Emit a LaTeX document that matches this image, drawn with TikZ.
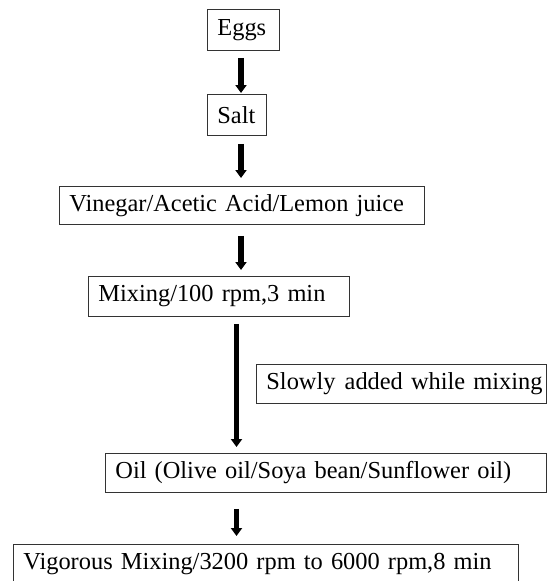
\documentclass[tikz,border=0pt]{standalone}
\usepackage{fontspec}
\setmainfont{Liberation Serif}
\usetikzlibrary{arrows.meta}
\begin{document}
\begin{tikzpicture}[x=1pt,y=-1pt,
  box/.style={draw=black!80, line width=0.8pt, anchor=north west, align=left,
    inner xsep=10pt, inner ysep=0pt, font=\fontsize{24.4}{28}\selectfont},
  arr/.style={line width=5.5pt, -{Triangle[width=11pt,length=8pt]}}]
\useasboundingbox (0,0) rectangle (547,581);
\node[box, text width=52pt, minimum height=41pt] (eggs) at (207,9) {\mbox{Eggs}};
\node[box, text width=39pt, minimum height=41pt] (salt) at (207,94) {\mbox{Salt}};
\node[box, text width=345pt, minimum height=38pt] (vin) at (59,186) {\mbox{Vinegar/Acetic Acid/Lemon juice}};
\node[box, text width=241pt, minimum height=40pt] (mix) at (88,276) {\mbox{Mixing/100 rpm,3 min}};
\node[box, text width=270pt, minimum height=39pt] (slow) at (256,364) {\mbox{Slowly\hspace{1pt} added while mixing}};
\node[box, text width=421pt, minimum height=39pt] (oil) at (105,453) {\mbox{Oil (Olive oil/Soya bean/Sunflower oil)}};
\node[box, text width=485pt, minimum height=40pt] (vig) at (13,544) {\mbox{Vigorous Mixing/3200 rpm to 6000 rpm,8 min}};
\coordinate (xa) at (241,0);
\coordinate (xb) at (236.5,0);
\draw[arr, shorten <=7pt, shorten >=1pt] (eggs.south -| xa) -- (salt.north -| xa);
\draw[arr, shorten <=8pt, shorten >=8pt] (salt.south -| xa) -- (vin.north -| xa);
\draw[arr, shorten <=11pt, shorten >=6pt] (vin.south -| xa) -- (mix.north -| xa);
\draw[arr, shorten <=7pt, shorten >=6pt] (mix.south -| xb) -- (oil.north -| xb);
\draw[arr, shorten <=16pt, shorten >=8pt] (oil.south -| xb) -- (vig.north -| xb);
\end{tikzpicture}
\end{document}
